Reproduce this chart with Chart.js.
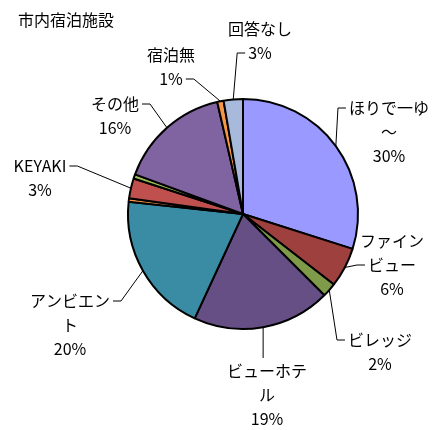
<!DOCTYPE html>
<html>
<head>
<meta charset="utf-8">
<script src="https://cdn.jsdelivr.net/npm/chart.js@4"></script>
<style>
  html, body { margin: 0; padding: 0; background: #fff; }
  #wrap { width: 433px; height: 430px; }
</style>
</head>
<body>
<div id="wrap"><canvas id="grafico" width="433" height="430"></canvas></div>
<script>
// データ (%)
const chartTitle = "市内宿泊施設";
const categories = ["ほりで一ゆ～", "ファインビュー", "ビレッジ", "ビューホテル", "アンビエント", "", "KEYAKI", "", "その他", "宿泊無", "回答なし"];
const percentages = [29.9, 5.6, 2.0, 19.4, 19.8, 0.5, 2.8, 0.6, 15.8, 0.9, 2.7];

// ラベル配置 (ラベル中心x, 1行目y, 引出線をつける行, 側)
const labelLayout = [
  { x: 389, y: 108, line: 0, side: "L" },
  { x: 392, y: 241, line: 1, side: "L" },
  { x: 380, y: 340, line: 0, side: "L" },
  { x: 267, y: 371, line: 0, side: "T" },
  { x: 70,  y: 301, line: 0, side: "R" },
  null,
  { x: 40,  y: 166, line: 0, side: "R" },
  null,
  { x: 115, y: 104, line: 0, side: "R" },
  { x: 171, y: 55,  line: 1, side: "R" },
  { x: 260, y: 29,  line: 1, side: "L" }
];

const FONT = '16px "Noto Sans CJK JP", "Noto Sans", sans-serif';
const LINE_H = 24;
const MAX_W = 88;
const noStart = "ァィゥェォッャュョー、。";

function wrapText(ctx, txt) {
  const chars = Array.from(txt);
  const lines = [];
  let cur = [];
  chars.forEach(c => {
    if (cur.length && ctx.measureText(cur.join("") + c).width > MAX_W) {
      let carry = [];
      if (noStart.includes(c) && cur.length > 1) carry = [cur.pop()];
      lines.push(cur.join(""));
      cur = carry;
    }
    cur.push(c);
  });
  if (cur.length) lines.push(cur.join(""));
  return lines;
}

const labelPlugin = {
  id: "rotulos",
  afterDatasetsDraw(chart) {
    const ctx = chart.ctx;
    const arcs = chart.getDatasetMeta(0).data;
    ctx.save();
    ctx.font = FONT;
    ctx.fillStyle = "#000";
    ctx.textAlign = "left";
    ctx.textBaseline = "middle";
    ctx.fillText(chartTitle, 18, 20);

    ctx.textAlign = "center";
    ctx.strokeStyle = "#000";
    ctx.lineWidth = 1;
    arcs.forEach((arc, i) => {
      const lay = labelLayout[i];
      if (!lay || !categories[i]) return;
      const lines = wrapText(ctx, categories[i]);
      lines.push(Math.round(percentages[i]) + "%");
      lines.forEach((t, k) => ctx.fillText(t, lay.x, lay.y + k * LINE_H));

      const mid = (arc.startAngle + arc.endAngle) / 2;
      const ex = arc.x + arc.outerRadius * Math.cos(mid);
      const ey = arc.y + arc.outerRadius * Math.sin(mid);
      const ly = lay.y + lay.line * LINE_H;
      const w = ctx.measureText(lines[lay.line]).width;
      ctx.beginPath();
      ctx.moveTo(ex, ey);
      if (lay.side === "T") {
        ctx.lineTo(ex, lay.y - 13);
      } else if (lay.side === "L") {
        const endX = lay.x - w / 2 - 3;
        ctx.lineTo(endX - 8, ly);
        ctx.lineTo(endX, ly);
      } else {
        const endX = lay.x + w / 2 + 3;
        ctx.lineTo(endX + 8, ly);
        ctx.lineTo(endX, ly);
      }
      ctx.stroke();
    });
    ctx.restore();
  }
};

new Chart(document.getElementById("grafico"), {
  type: "pie",
  data: {
    labels: categories,
    datasets: [{
      data: percentages,
      backgroundColor: ["#9999FF", "#9E413E", "#7F9A48", "#654F85", "#3A8CA5", "#F79646",
                        "#C0504D", "#9BBB59", "#8064A2", "#F79646", "#A8BADC"],
      borderColor: "#000",
      borderWidth: 2
    }]
  },
  options: {
    responsive: false,
    animation: false,
    layout: { padding: { left: 127, right: 74, top: 98, bottom: 100 } },
    plugins: {
      legend: { display: false },
      tooltip: { enabled: false }
    }
  },
  plugins: [labelPlugin]
});
</script>
</body>
</html>
